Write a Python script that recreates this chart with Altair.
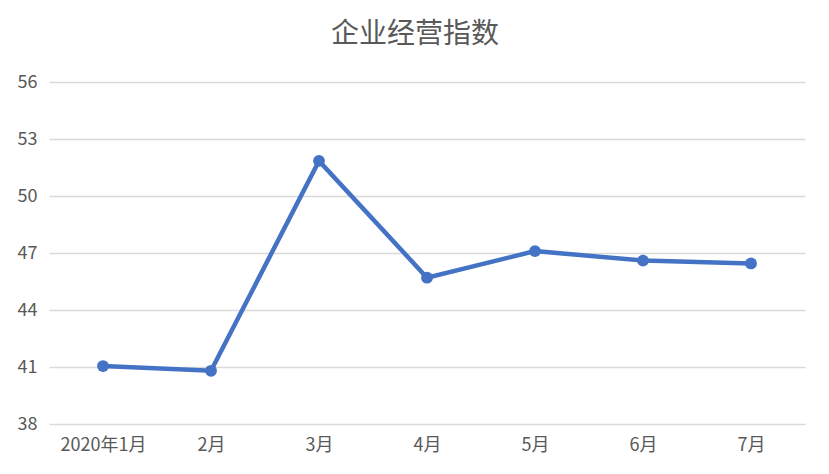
import altair as alt
import pandas as pd

months = ["2020年1月", "2月", "3月", "4月", "5月", "6月", "7月"]
values = [41.05, 40.8, 51.85, 45.7, 47.1, 46.6, 46.45]
y_ticks = [38, 41, 44, 47, 50, 53, 56]

df = pd.DataFrame({"month": months, "value": values})

font = "Noto Sans CJK SC"
grey = "#595959"
blue = "#4472C4"

x = alt.X("month:N", sort=months, title=None,
          scale=alt.Scale(paddingInner=0, paddingOuter=0),
          axis=alt.Axis(labelAngle=0, ticks=False, domain=False, grid=False,
                        labelFont=font, labelFontSize=18, labelColor=grey,
                        labelPadding=12))
y = alt.Y("value:Q", title=None,
          scale=alt.Scale(domain=[38, 56], nice=False, zero=False),
          axis=alt.Axis(values=y_ticks, ticks=False, domain=False,
                        gridColor="#d9d9d9", gridWidth=1.3,
                        labelFont=font, labelFontSize=18, labelColor=grey,
                        labelPadding=12))

line = alt.Chart(df).mark_line(color=blue, strokeWidth=4.5).encode(x=x, y=y)
pts = alt.Chart(df).mark_point(color=blue, filled=True, opacity=1, size=140).encode(x=x, y=y)

chart = (line + pts).properties(
    width=756, height=342,
    background="white",
    title=alt.TitleParams("企业经营指数", font=font, fontSize=28, fontWeight="normal",
                          color=grey, anchor="middle", offset=24, dx=-12),
    autosize=alt.AutoSizeParams(type="none"),
    padding={"left": 41, "top": 74, "right": 16, "bottom": 42},
).configure_view(strokeWidth=0, stroke="transparent")

chart.save("out.html", embed_options={"renderer": "svg", "actions": False})
